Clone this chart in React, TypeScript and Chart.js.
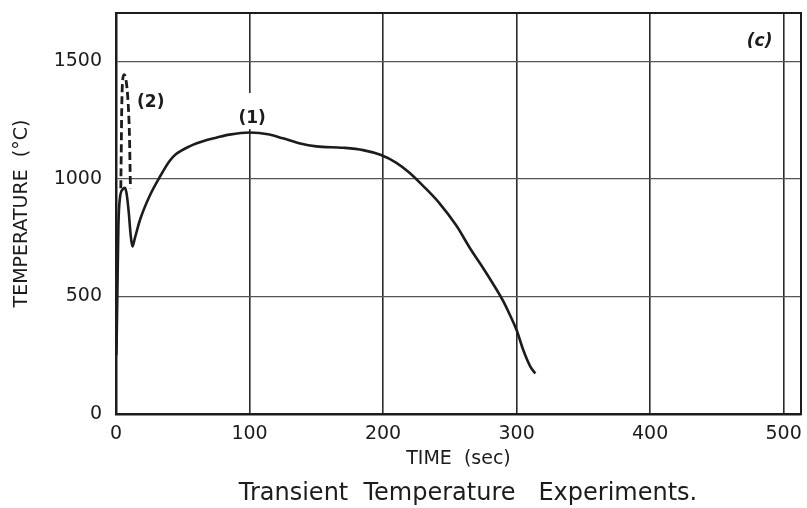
import React, { useEffect, useRef } from "react";
import { Chart, registerables } from "chart.js";

Chart.register(...registerables);

// Curve (1): solid trace, time (s) vs temperature (°C)
const timeOne = [0.3, 1, 1.8, 3, 5, 6.7, 8, 9.5, 11, 12.3, 14, 18, 25, 33, 40, 45, 55, 68, 75, 85, 100, 115, 125, 138, 150, 170, 185, 198, 210, 220, 230, 242, 255, 265, 275, 282, 290, 295, 300, 305, 310, 314];
const tempOne = [250, 500, 800, 920, 955, 962, 935, 860, 760, 712, 745, 826, 925, 1010, 1075, 1105, 1138, 1165, 1175, 1188, 1197, 1188, 1172, 1150, 1138, 1132, 1122, 1102, 1068, 1025, 970, 898, 800, 706, 620, 557, 480, 421, 357, 272, 205, 172];

// Curve (2): dashed spike
const timeTwo = [3.6, 3.9, 4.3, 5, 6, 7.5, 9, 10, 10.5, 10.8];
const tempTwo = [960, 1100, 1300, 1420, 1443, 1420, 1330, 1200, 1060, 960];

const xTicks = [0, 100, 200, 300, 400, 500];
const yTicks = [0, 500, 1000, 1500];

const axisFont = "'DejaVu Sans', sans-serif";
const ink = "#1c1c1c";

const toPoints = (xs: number[], ys: number[]) => xs.map((x, i) => ({ x, y: ys[i] }));

// label positions in data units
const labelOne = { x: 102, y: 1254 };
const labelTwo = { x: 26, y: 1322 };
const labelC = { x: 482, y: 1582 };

const annotations = {
  id: "annotations",
  beforeDatasetsDraw(chart: any) {
    const { ctx, scales } = chart;
    const px = scales.x.getPixelForValue(labelOne.x);
    const py = scales.y.getPixelForValue(labelOne.y);
    // clear the grid line behind label (1)
    ctx.save();
    ctx.fillStyle = "#ffffff";
    ctx.fillRect(px - 15, py - 26, 30, 36);
    ctx.restore();
  },
  afterDraw(chart: any) {
    const { ctx, chartArea, scales } = chart;
    const xs = scales.x;
    const ys = scales.y;
    ctx.save();
    // frame on top and right
    ctx.strokeStyle = ink;
    ctx.lineWidth = 2;
    ctx.strokeRect(chartArea.left, chartArea.top, chartArea.right - chartArea.left, chartArea.bottom - chartArea.top);

    // curve labels
    ctx.fillStyle = ink;
    ctx.textAlign = "center";
    ctx.textBaseline = "middle";
    ctx.font = `bold 17px ${axisFont}`;
    ctx.fillText("(1)", xs.getPixelForValue(labelOne.x), ys.getPixelForValue(labelOne.y));
    ctx.fillText("(2)", xs.getPixelForValue(labelTwo.x), ys.getPixelForValue(labelTwo.y));
    ctx.font = `italic bold 17px ${axisFont}`;
    ctx.fillText("(c)", xs.getPixelForValue(labelC.x), ys.getPixelForValue(labelC.y));

    // caption under the axis
    ctx.font = `24px ${axisFont}`;
    ctx.fillText("Transient  Temperature   Experiments.", 468, 494);
    ctx.restore();
  },
};

export default function App() {
  const canvasRef = useRef<HTMLCanvasElement | null>(null);

  useEffect(() => {
    if (!canvasRef.current) return;
    const chart = new Chart(canvasRef.current, {
      type: "line",
      data: {
        datasets: [
          {
            label: "(1)",
            data: toPoints(timeOne, tempOne),
            borderColor: ink,
            borderWidth: 2.6,
            pointRadius: 0,
            cubicInterpolationMode: "monotone",
            fill: false,
          },
          {
            label: "(2)",
            data: toPoints(timeTwo, tempTwo),
            borderColor: ink,
            borderWidth: 2.8,
            borderDash: [8, 4],
            pointRadius: 0,
            cubicInterpolationMode: "monotone",
            fill: false,
          },
        ],
      },
      options: {
        animation: false,
        responsive: false,
        maintainAspectRatio: false,
        layout: { padding: { top: 13, right: 6, left: 0, bottom: 0 } },
        plugins: { legend: { display: false }, tooltip: { enabled: false } },
        scales: {
          x: {
            type: "linear",
            min: 0,
            max: 513,
            afterFit: (s: any) => {
              s.height = 94;
              s.paddingLeft = 0;
              s.paddingRight = 0;
            },
            afterBuildTicks: (s: any) => { s.ticks = xTicks.map((v) => ({ value: v })); },
            ticks: {
              includeBounds: false,
              padding: 9,
              color: ink,
              font: { family: axisFont, size: 19 },
              callback: (v: any) => String(v),
            },
            grid: { color: "#2a2a2a", lineWidth: 1.6, drawTicks: false },
            border: { color: ink, width: 2.5 },
            title: {
              display: true,
              text: "TIME  (sec)",
              color: ink,
              font: { family: axisFont, size: 19 },
              padding: { top: 0, bottom: 38 },
            },
          },
          y: {
            type: "linear",
            min: 0,
            max: 1705,
            afterFit: (s: any) => {
              s.width = 116;
              s.paddingTop = 0;
              s.paddingBottom = 0;
            },
            afterBuildTicks: (s: any) => { s.ticks = yTicks.map((v) => ({ value: v })); },
            ticks: {
              includeBounds: false,
              padding: 14,
              color: ink,
              font: { family: axisFont, size: 19 },
              callback: (v: any) => String(v),
            },
            grid: { color: "#555", lineWidth: 1.2, drawTicks: false },
            border: { color: ink, width: 2.5 },
            title: {
              display: true,
              text: "TEMPERATURE  (°C)",
              color: ink,
              font: { family: axisFont, size: 19 },
              padding: { top: 11, bottom: 0 },
            },
          },
        },
      },
      plugins: [annotations],
    } as any);
    return () => chart.destroy();
  }, []);

  return (
    <div style={{ position: "absolute", left: 0, top: 0, width: 807, height: 508, background: "#fff" }}>
      <canvas ref={canvasRef} width={807} height={508} style={{ width: 807, height: 508 }} />
    </div>
  );
}
